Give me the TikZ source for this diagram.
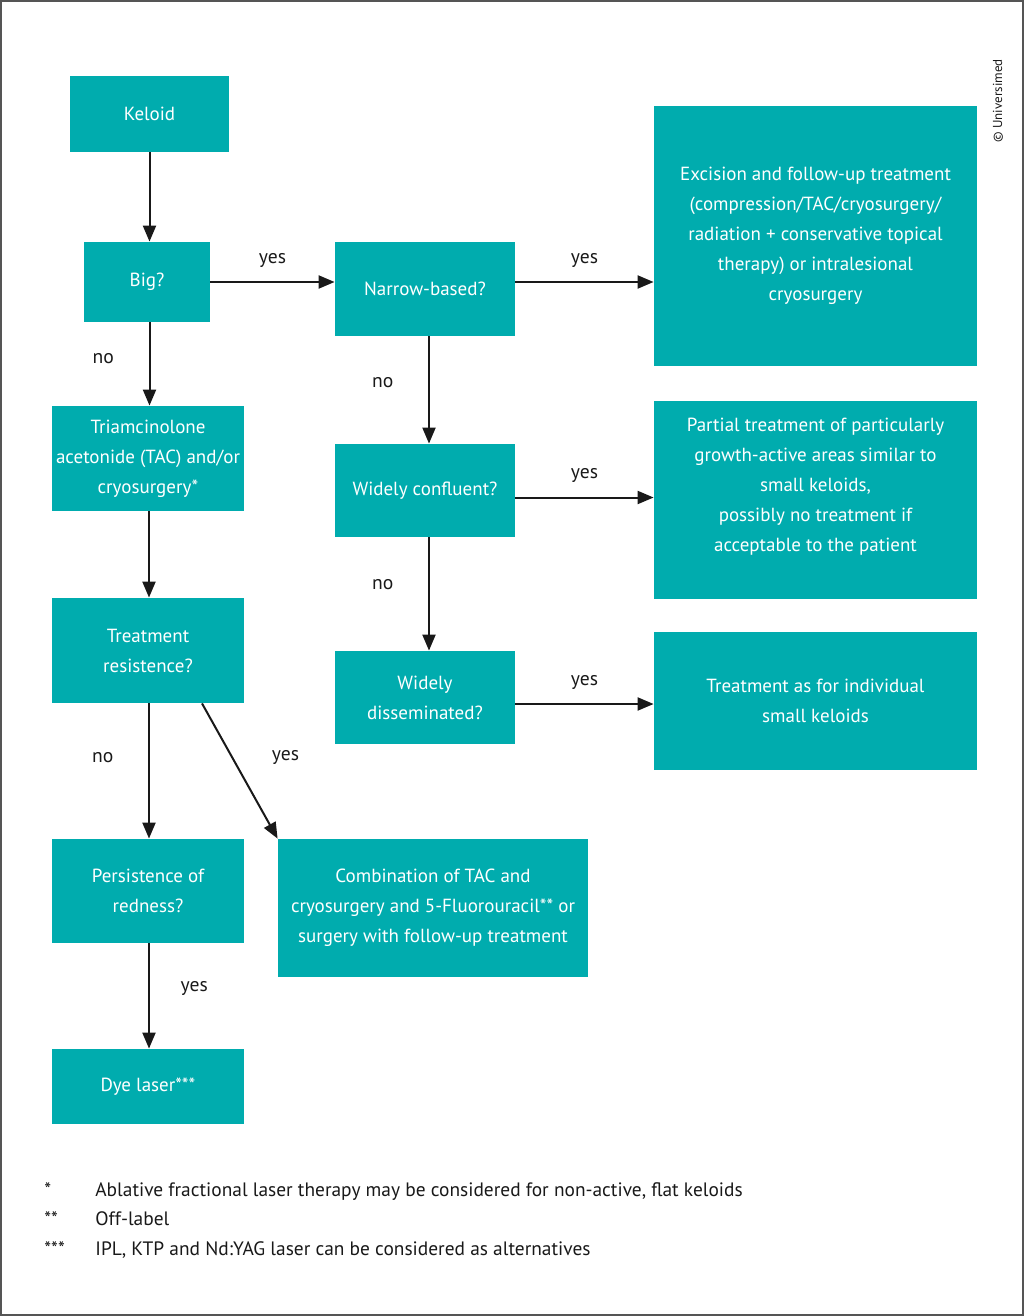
\documentclass[tikz,border=0pt]{standalone}
\usepackage{fontspec}
\setmainfont{PT Sans}
\usetikzlibrary{arrows.meta}
\definecolor{keloidteal}{HTML}{00ACAE}
\definecolor{framegray}{HTML}{555555}

\begin{document}
\begin{tikzpicture}[x=0.5pt,y=-0.5pt,
		box/.style={fill=keloidteal,text=white,align=center,inner sep=0pt,font=\fontsize{9.5}{15}\selectfont},
		arr/.style={-{Triangle[length=8pt,width=6.5pt]},line width=1pt,draw=black!90},
		lbl/.style={font=\fontsize{9.8}{12}\selectfont,text=black!90},
		note/.style={anchor=base west,font=\fontsize{9.7}{12}\selectfont,text=black!90,inner sep=0pt}]
	\useasboundingbox (0,0) rectangle (1024,1316);
	\draw[framegray,line width=1pt] (1,1) rectangle (1023,1315);
	% left column
	\node[box,minimum width=79.5pt,minimum height=38pt] (keloid) at (149.5,114) {Keloid};
	\node[box,minimum width=63pt,minimum height=40pt] (big) at (147,282) {Big?};
	\node[box,minimum width=96pt,minimum height=52.5pt] (tac) at (148,458.5) {Triamcinolone\\acetonide (TAC) and/or\\cryosurgery*};
	\node[box,minimum width=96pt,minimum height=52.5pt] (resist) at (148,650.5) {Treatment\\resistence?};
	\node[box,minimum width=96pt,minimum height=52pt] (redness) at (148,891) {Persistence of\\redness?};
	\node[box,minimum width=96pt,minimum height=37.5pt] (dye) at (148,1086.5) {Dye laser***};
	\node[box,minimum width=155pt,minimum height=69pt] (combi) at (433,908) {Combination of TAC and\\cryosurgery and 5-Fluorouracil** or\\surgery with follow-up treatment};
	% middle column
	\node[box,minimum width=90pt,minimum height=47pt] (narrow) at (425,289) {Narrow-based?};
	\node[box,minimum width=90pt,minimum height=46.5pt] (confluent) at (425,490.5) {Widely confluent?};
	\node[box,minimum width=90pt,minimum height=46.5pt] (dissem) at (425,697.5) {Widely\\disseminated?};
	% right column
	\node[box,minimum width=161.5pt,minimum height=130pt] (excision) at (815.5,236) {Excision and follow-up treatment\\(compression/TAC/cryosurgery/\\radiation + conservative topical\\therapy) or intralesional\\cryosurgery};
	\node[box,minimum width=161.5pt,minimum height=99pt,text depth=15pt] (partial) at (815.5,500) {Partial treatment of particularly\\growth-active areas similar to\\small keloids,\\possibly no treatment if\\acceptable to the patient};
	\node[box,minimum width=161.5pt,minimum height=69pt] (individual) at (815.5,701) {Treatment as for individual\\small keloids};

	\draw[arr] (keloid) -- (keloid |- big.north);
	\draw[arr] (big.east) -- (big.east -| narrow.west) node[lbl,midway,above=3.5pt] {yes};
	\draw[arr] (narrow.east |- big.east) -- (excision.west |- big.east) node[lbl,midway,above=3.5pt] {yes};
	\draw[arr] (keloid |- big.south) -- (keloid |- tac.north) node[lbl,pos=0.44,left=14pt] {no};
	\draw[arr] ([xshift=2pt]narrow.south) -- ([xshift=2pt]confluent.north) node[lbl,pos=0.43,left=14pt] {no};
	\draw[arr] ([yshift=-3.5pt]confluent.east) -- ([yshift=-3.5pt]confluent.east -| partial.west) node[lbl,midway,above=3.5pt] {yes};
	\draw[arr] ([xshift=2pt]confluent.south) -- ([xshift=2pt]dissem.north) node[lbl,pos=0.42,left=14pt] {no};
	\draw[arr] ([yshift=-3.25pt]dissem.east) -- ([yshift=-3.25pt]dissem.east -| individual.west) node[lbl,midway,above=3.5pt] {yes};
	\draw[arr] ([xshift=0.5pt]tac.south) -- ([xshift=0.5pt]resist.north);
	\draw[arr] ([xshift=0.5pt]resist.south) -- ([xshift=0.5pt]redness.north) node[lbl,pos=0.4,left=14pt] {no};
	\draw[arr] ([xshift=27pt]resist.south) -- (combi.north west) node[lbl,pos=0.4,right=16pt] {yes};
	\draw[arr] ([xshift=0.5pt]redness.south) -- ([xshift=0.5pt]dye.north) node[lbl,pos=0.43,right=12pt] {yes};

	% footnotes
	\node[note] (n1) at (44,1196) {*};
	\node[note] (t1) at (95,1196) {Ablative fractional laser therapy may be considered for non-active, flat keloids};
	\node[note] (n2) at (44,1225) {**};
	\node[note] (t2) at (95,1225) {Off-label};
	\node[note] (n3) at (44,1255) {***};
	\node[note] (t3) at (95,1255) {IPL, KTP and Nd:YAG laser can be considered as alternatives};
	\node[rotate=90,font=\fontsize{6.5}{8}\selectfont,text=black!90,inner sep=0pt] (copy) at (998,101) {© Universimed};
\end{tikzpicture}
\end{document}
